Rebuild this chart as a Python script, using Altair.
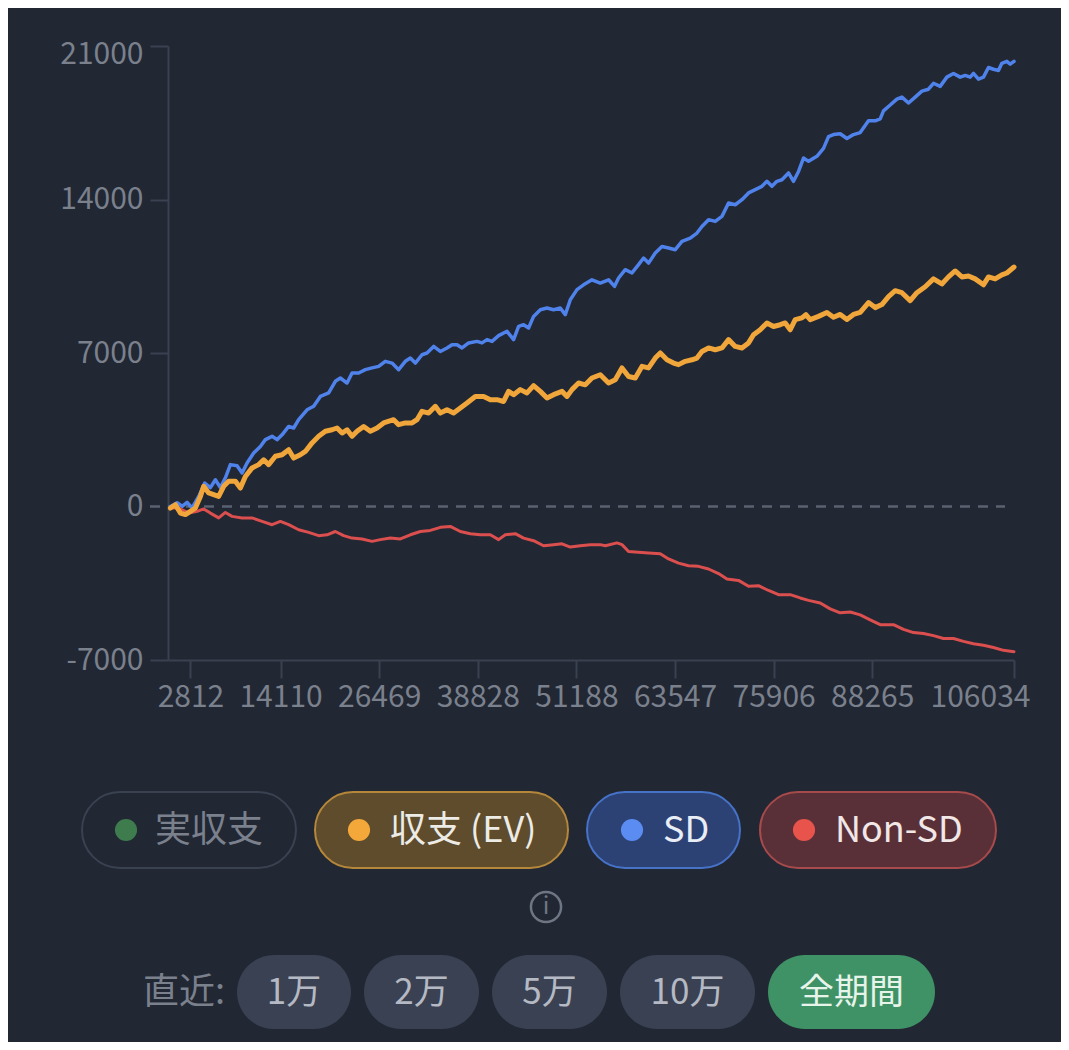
import altair as alt
import pandas as pd

# ---------------- data ----------------
X_TICKS = [2812, 14110, 26469, 38828, 51188, 63547, 75906, 88265, 106034]
Y_TICKS = [-7000, 0, 7000, 14000, 21000]

SD_HANDS = [301, 1140, 1767, 2393, 3020, 3847, 4599, 5313, 5939, 6566, 7192, 7819, 8658, 9285, 9911,
            10738, 11578, 12204, 13044, 13670, 14297, 15124, 15750, 16377, 17429, 18256, 19096, 20136,
            20975, 21602, 22441, 23068, 23895, 24734, 25574, 26401, 27240, 28080, 28907, 29746, 30373,
            30999, 31839, 32465, 33292, 34132, 34971, 35598, 36224, 36851, 37678, 38730, 39357, 39983,
            40610, 41437, 42489, 43316, 43943, 44569, 45196, 45822, 46662, 47501, 48328, 49168, 49794,
            50421, 51260, 52087, 53140, 54180, 55220, 55972, 56473, 57312, 58152, 58979, 59605, 60232,
            61071, 61911, 62738, 63577, 64417, 65457, 66296, 66923, 67750, 68589, 69429, 70256, 71095,
            71935, 72762, 73601, 74441, 75067, 75694, 76320, 76947, 77774, 78400, 79027, 79653, 80280,
            81332, 82159, 82786, 83412, 84252, 85091, 85918, 86758, 87798, 88637, 89264, 89677, 90517,
            91356, 91983, 92810, 93649, 94489, 95316, 95942, 96782, 97621, 98448, 99288, 99914, 100541,
            100954, 101581, 102207, 102834, 103460, 104087, 104513, 105139, 105553, 106034]
SD_VALUES = [0, 170, 10, 190, -60, 460, 1070, 860, 1220, 860, 1310, 1910, 1860, 1530, 1980,
             2440, 2740, 3050, 3200, 3050, 3270, 3650, 3580, 3960, 4410, 4570, 5020, 5180,
             5710, 5860, 5630, 6090, 6090, 6240, 6320, 6390, 6620, 6540, 6240, 6620, 6770,
             6540, 6920, 7000, 7300, 7070, 7230, 7380, 7380, 7230, 7460, 7530, 7460, 7610,
             7530, 7790, 7990, 7610, 8210, 8290, 8140, 8670, 8970, 9050, 8970, 9050, 8750,
             9430, 9890, 10110, 10340, 10190, 10340, 10040, 10420, 10800, 10650, 11030, 11330, 11100,
             11560, 11860, 11790, 11710, 12090, 12240, 12470, 12770, 13080, 13000, 13230, 13840, 13760,
             13990, 14300, 14450, 14600, 14830, 14600, 14830, 14900, 15210, 14830, 15280, 15890, 15740,
             15970, 16330, 16870, 16960, 17000, 16780, 16960, 17050, 17590, 17590, 17680, 18040, 18310,
             18580, 18670, 18400, 18670, 18940, 19030, 19300, 19160, 19580, 19750, 19580, 19660, 19580,
             19750, 19490, 19580, 20020, 19940, 19880, 20210, 20300, 20170, 20300]

EV_HANDS = [301, 927, 1554, 2180, 2807, 3433, 4060, 4473, 5100, 5726, 6353, 6979, 7606, 8445, 9072,
            9698, 10538, 11365, 11991, 12618, 13457, 14297, 15124, 15750, 16590, 17216, 18056, 18883,
            19722, 20562, 21188, 21815, 22441, 23068, 23694, 24521, 25361, 26200, 27027, 28280, 28907,
            29746, 30586, 31212, 31839, 32666, 33505, 34132, 34971, 35798, 36638, 37477, 38517, 39557,
            40397, 41236, 42063, 42690, 43316, 44156, 44995, 45822, 46662, 47501, 48328, 49381, 50007,
            50634, 51461, 52300, 53140, 54180, 55220, 56059, 56899, 57726, 58565, 59405, 60232, 61071,
            61698, 62537, 63364, 63991, 64830, 65670, 66296, 66923, 67750, 68589, 69429, 70256, 71095,
            71935, 72762, 73388, 74228, 75067, 75894, 76734, 77360, 77987, 78613, 79453, 79954, 80493,
            81533, 82585, 83412, 84252, 85091, 85918, 86758, 87798, 88637, 89477, 90304, 91143, 91983,
            93023, 93862, 94902, 95942, 96995, 97822, 98661, 99501, 100328, 101167, 102207, 102834,
            103673, 104513, 105139, 106034]
EV_VALUES = [-70, 80, -300, -370, -220, -70, 460, 920, 620, 540, 460, 920, 1150, 1150, 840,
             1370, 1760, 1910, 2130, 1910, 2290, 2360, 2590, 2210, 2360, 2510, 2900, 3200,
             3430, 3500, 3580, 3350, 3500, 3200, 3430, 3650, 3430, 3580, 3810, 3960, 3730,
             3810, 3810, 3960, 4340, 4260, 4570, 4260, 4410, 4260, 4490, 4720, 5020, 5020,
             4870, 4870, 4790, 5250, 5100, 5330, 5180, 5510, 5250, 4950, 5100, 5250, 5020,
             5330, 5630, 5550, 5860, 6010, 5630, 5780, 6320, 5930, 5860, 6390, 6320, 6770,
             7000, 6690, 6540, 6470, 6620, 6690, 6770, 7070, 7230, 7150, 7230, 7610, 7300,
             7230, 7460, 7830, 8060, 8370, 8210, 8290, 8370, 8060, 8520, 8600, 8750, 8520,
             8670, 8850, 8630, 8760, 8530, 8760, 8850, 9300, 9070, 9210, 9570, 9840, 9750,
             9390, 9750, 10020, 10380, 10150, 10470, 10740, 10470, 10510, 10380, 10110, 10470,
             10380, 10560, 10650, 10920]

NONSD_HANDS = [301, 1341, 2594, 3646, 4473, 5313, 6353, 7192, 8032, 9285, 10538, 11791, 13044, 14084,
               15124, 16377, 17630, 18883, 19935, 20975, 22015, 23068, 24321, 25574, 26614, 27867,
               29120, 30373, 31626, 32879, 34132, 35385, 36638, 37891, 39144, 40397, 41437, 42276,
               43529, 44569, 45822, 47075, 48328, 49381, 50421, 51674, 52927, 54180, 54806, 56272,
               56899, 57726, 58979, 60232, 61698, 62738, 63991, 65244, 66497, 67750, 69003, 70055,
               71509, 72762, 74015, 75268, 76521, 77987, 79240, 80280, 81746, 82999, 84252, 85505,
               86758, 88011, 89264, 90930, 92183, 93436, 94689, 95942, 97195, 98448, 99701, 100954,
               102207, 103460, 104713, 106034]
NONSD_VALUES = [-70, -70, -300, -220, -110, -300, -520, -270, -450, -520, -520, -680, -830, -680,
                -830, -1060, -1180, -1330, -1290, -1140, -1330, -1440, -1480, -1590, -1510, -1440,
                -1480, -1290, -1140, -1090, -950, -910, -1140, -1240, -1290, -1290, -1510, -1290,
                -1240, -1440, -1560, -1790, -1740, -1700, -1850, -1790, -1740, -1740, -1790, -1660,
                -1740, -2050, -2090, -2120, -2150, -2390, -2580, -2700, -2730, -2850, -3060, -3310,
                -3370, -3640, -3610, -3830, -4020, -4020, -4170, -4280, -4400, -4670, -4850, -4810,
                -4940, -5170, -5390, -5390, -5600, -5750, -5790, -5890, -6020, -6020, -6150, -6260,
                -6330, -6430, -6560, -6620]

LEGEND_LABELS = ["実収支", "収支 (EV)", "SD", "Non-SD"]
RANGE_PREFIX = "直近:"
RANGE_LABELS = ["1万", "2万", "5万", "10万", "全期間"]

# ---------------- styling / layout ----------------
BG = "#212733"
AXIS_COLOR = "#3a4150"
LABEL_COLOR = "#7a808c"
FONT = "Noto Sans CJK JP"
W, H = 846, 614
OX, OY = 168, 46          # page position of the plot origin (after the 8px page margin)

x_scale = alt.Scale(domain=[0, 106034], nice=False, zero=False)
y_scale = alt.Scale(domain=[-7000, 21000], nice=False, zero=False)

x_axis = alt.Axis(values=X_TICKS, format="d", title=None, grid=False, labelFont=FONT,
                  labelFontSize=30, labelColor=LABEL_COLOR, labelPadding=4, tickSize=18,
                  tickWidth=2, tickColor=AXIS_COLOR, domainColor=AXIS_COLOR, domainWidth=2,
                  labelOverlap=False, labelFlush=False,
                  labelOffset={"condition": {"test": "datum.value === 106034", "value": -34}, "value": 0})
y_axis = alt.Axis(values=Y_TICKS, title=None, grid=False, labelFont=FONT,
                  labelExpr="datum.value < 0 ? '-' + format(-datum.value, 'd') : format(datum.value, 'd')",
                  labelFontSize=30, labelColor=LABEL_COLOR, labelPadding=7, tickSize=18,
                  tickWidth=2, domainColor=AXIS_COLOR, domainWidth=2, labelOverlap=False,
                  labelFlush=False,
                  tickColor={"condition": {"test": "datum.value === 0", "value": "transparent"},
                             "value": AXIS_COLOR},
                  labelOffset={"condition": {"test": "datum.value === 21000", "value": 8}, "value": 0})


def line_layer(hands, values, color, width):
    df = pd.DataFrame({"hand": hands, "value": values})
    return alt.Chart(df).mark_line(color=color, strokeWidth=width, strokeJoin="round",
                                   strokeCap="round").encode(
        x=alt.X("hand:Q", scale=x_scale, axis=x_axis),
        y=alt.Y("value:Q", scale=y_scale, axis=y_axis),
    )


zero_rule = alt.Chart(pd.DataFrame({"v": [0]})).mark_rule(
    color="#5a6170", strokeWidth=2.5, strokeDash=[10, 8]).encode(
    y=alt.Y("v:Q", scale=y_scale, axis=y_axis),
    x=alt.value(-18), x2=alt.value(1005 - OX))

blue = line_layer(SD_HANDS, SD_VALUES, "#4f82ea", 3.5)
red = line_layer(NONSD_HANDS, NONSD_VALUES, "#dc4f4f", 3)
orange = line_layer(EV_HANDS, EV_VALUES, "#f0a63a", 5)

# ---------------- legend pills and range buttons (page UI) ----------------
pill_df = pd.DataFrame({
    "x0": [v - OX for v in [82, 315, 587, 760]],
    "x1": [v - OX for v in [296, 568, 740, 996]],
    "y0": [792 - OY] * 4,
    "y1": [868 - OY] * 4,
    "fill": ["transparent", "#5e4c2d", "#2c4274", "#5a3038"],
    "stroke": ["#3a4150", "#b5873a", "#4672c8", "#a64a4b"],
})
pills = alt.Chart(pill_df).mark_rect(cornerRadius=38, strokeWidth=2).encode(
    x=alt.X("x0:Q", scale=None), x2="x1:Q",
    y=alt.Y("y0:Q", scale=None), y2="y1:Q",
    fill=alt.Fill("fill:N", scale=None), stroke=alt.Stroke("stroke:N", scale=None))

btn_df = pd.DataFrame({
    "x0": [v - OX for v in [237, 364, 492, 620, 768]],
    "x1": [v - OX for v in [351, 479, 607, 755, 935]],
    "y0": [955 - OY] * 5,
    "y1": [1029 - OY] * 5,
    "fill": ["#3a4152", "#3a4152", "#3a4152", "#3a4152", "#3f9166"],
})
buttons = alt.Chart(btn_df).mark_rect(cornerRadius=37).encode(
    x=alt.X("x0:Q", scale=None), x2="x1:Q",
    y=alt.Y("y0:Q", scale=None), y2="y1:Q",
    fill=alt.Fill("fill:N", scale=None))

dot_df = pd.DataFrame({
    "x": [v - OX for v in [126, 359, 632, 804]],
    "y": [830 - OY] * 4,
    "c": ["#3e7c4d", "#f4a83a", "#5a8cf2", "#e8534c"],
})
dots = alt.Chart(dot_df).mark_circle(size=490, opacity=1).encode(
    x=alt.X("x:Q", scale=None), y=alt.Y("y:Q", scale=None),
    color=alt.Color("c:N", scale=None))

info_df = pd.DataFrame({"x": [546 - OX], "y": [907 - OY]})
info_ring = alt.Chart(info_df).mark_point(shape="circle", filled=False, size=908, strokeWidth=2.5,
                                          color="#6f7683", opacity=1).encode(
    x=alt.X("x:Q", scale=None), y=alt.Y("y:Q", scale=None))

left_text_df = pd.DataFrame({
    "x": [v - OX for v in [155, 390, 663, 835, 143]],
    "y": [v - OY for v in [831, 831, 831, 831, 993]],
    "t": LEGEND_LABELS + [RANGE_PREFIX],
    "c": [LABEL_COLOR, "#ecebe6", "#e9edf6", "#f1e7e7", LABEL_COLOR],
})
left_texts = alt.Chart(left_text_df).mark_text(align="left", baseline="middle", font=FONT,
                                                fontSize=36).encode(
    x=alt.X("x:Q", scale=None), y=alt.Y("y:Q", scale=None), text="t:N",
    color=alt.Color("c:N", scale=None))

center_text_df = pd.DataFrame({
    "x": [v - OX for v in [294, 421.5, 549.5, 687.5, 851.5]],
    "y": [993 - OY] * 5,
    "t": RANGE_LABELS,
    "c": ["#b4b9c3", "#b4b9c3", "#b4b9c3", "#b4b9c3", "#e6f4ea"],
})
center_texts = alt.Chart(center_text_df).mark_text(align="center", baseline="middle", font=FONT,
                                                    fontSize=35).encode(
    x=alt.X("x:Q", scale=None), y=alt.Y("y:Q", scale=None), text="t:N",
    color=alt.Color("c:N", scale=None))

info_i = alt.Chart(info_df).mark_text(text="i", align="center", baseline="middle", font=FONT,
                                      fontSize=24, color="#6f7683").encode(
    x=alt.X("x:Q", scale=None), y=alt.Y("y:Q", scale=None))

chart = alt.layer(
    zero_rule, blue, red, orange,
    pills, dots, left_texts, info_ring, info_i, buttons, center_texts,
).properties(
    width=W, height=H,
    autosize=alt.AutoSizeParams(type="none"),
    padding={"left": OX - 8, "top": OY - 8, "right": 1069 - 16 - (OX - 8) - W, "bottom": 1034 - (OY - 8) - H},
).configure(background=BG).configure_view(stroke=None)

chart.save("out.html", embed_options={"renderer": "svg", "actions": False})
